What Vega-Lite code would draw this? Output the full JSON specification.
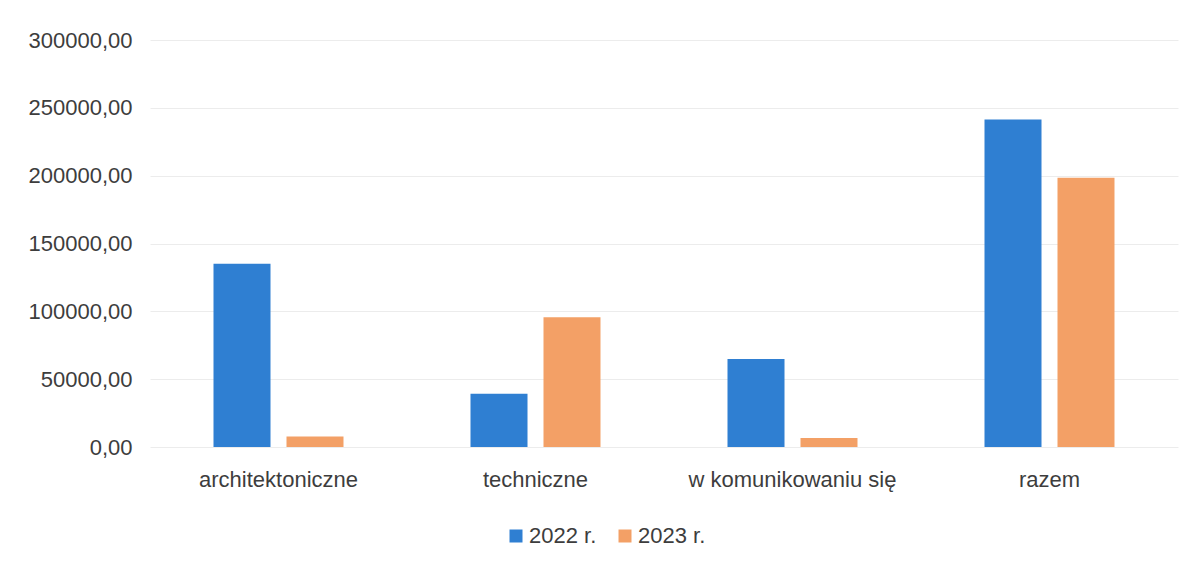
{
  "$schema": "https://vega.github.io/schema/vega-lite/v6.json",
  "autosize": {"type": "none"},
  "width": 1028,
  "height": 407,
  "padding": {"left": 150, "top": 40, "right": 23, "bottom": 118},
  "background": "#ffffff",
  "data": {
    "values": [
      {"kategoria": "architektoniczne", "rok": "2022 r.", "wartosc": 135000},
      {"kategoria": "architektoniczne", "rok": "2023 r.", "wartosc": 7800},
      {"kategoria": "techniczne", "rok": "2022 r.", "wartosc": 39300},
      {"kategoria": "techniczne", "rok": "2023 r.", "wartosc": 95600},
      {"kategoria": "w komunikowaniu się", "rok": "2022 r.", "wartosc": 64900},
      {"kategoria": "w komunikowaniu się", "rok": "2023 r.", "wartosc": 6600},
      {"kategoria": "razem", "rok": "2022 r.", "wartosc": 241400},
      {"kategoria": "razem", "rok": "2023 r.", "wartosc": 198400}
    ]
  },
  "mark": {"type": "bar"},
  "encoding": {
    "x": {
      "field": "kategoria",
      "type": "nominal",
      "sort": ["architektoniczne", "techniczne", "w komunikowaniu się", "razem"],
      "scale": {"paddingInner": 0, "paddingOuter": 0},
      "axis": {
        "title": null,
        "labelAngle": 0,
        "ticks": false,
        "domain": false,
        "labelPadding": 22,
        "labelLimit": 400,
        "labelFont": "Liberation Sans",
        "labelFontSize": 22,
        "labelColor": "#3d3d3d",
        "grid": false
      }
    },
    "xOffset": {
      "field": "rok",
      "type": "nominal",
      "scale": {"paddingInner": 0.219, "paddingOuter": 0.87}
    },
    "y": {
      "field": "wartosc",
      "type": "quantitative",
      "scale": {"domain": [0, 300000], "nice": false},
      "axis": {
        "title": null,
        "values": [0, 50000, 100000, 150000, 200000, 250000, 300000],
        "labelExpr": "replace(format(datum.value, '.2f'), '.', ',')",
        "ticks": false,
        "domain": false,
        "labelPadding": 18,
        "labelFont": "Liberation Sans",
        "labelFontSize": 22,
        "labelColor": "#3d3d3d",
        "gridColor": "#ececec",
        "gridWidth": 1
      }
    },
    "color": {
      "field": "rok",
      "type": "nominal",
      "scale": {"domain": ["2022 r.", "2023 r."], "range": ["#2f7fd2", "#f3a066"]},
      "legend": {
        "title": null,
        "orient": "none",
        "direction": "horizontal",
        "legendX": 355,
        "legendY": 485,
        "symbolType": "square",
        "symbolSize": 169,
        "symbolStrokeWidth": 0,
        "labelFont": "Liberation Sans",
        "labelFontSize": 22,
        "labelColor": "#3d3d3d",
        "labelOffset": 2,
        "columnPadding": 17
      }
    }
  },
  "config": {
    "view": {"stroke": null},
    "axis": {"gridColor": "#ececec"}
  }
}
